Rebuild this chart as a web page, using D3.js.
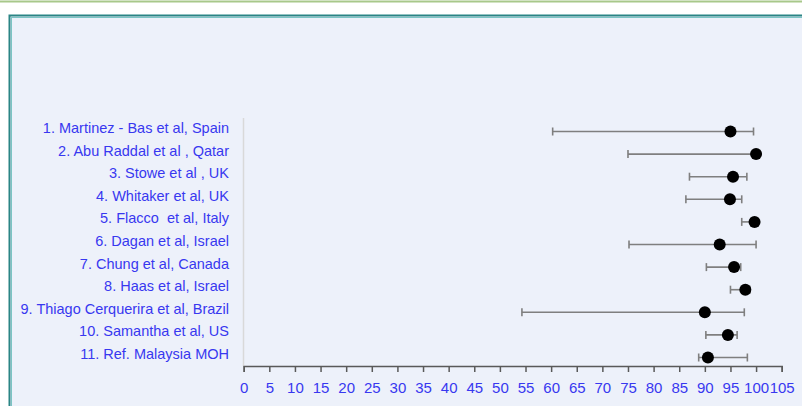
<!DOCTYPE html>
<html>
<head>
<meta charset="utf-8">
<script src="https://cdn.jsdelivr.net/npm/d3@7"></script>
<style>
  body { margin: 0; background: #fff; }
  svg { display: block; }
  text { font-family: "Liberation Sans Narrow", "Liberation Sans", sans-serif; }
</style>
</head>
<body>
<div id="d3-container"></div>
<script>
/**
 * CONSTANTS AND GLOBALS
 * */
const width = 802,
  height = 406,
  margin = { top: 118, bottom: 40, left: 243.7, right: 20 };

// data
const studies = [
  "1. Martinez - Bas et al, Spain",
  "2. Abu Raddal et al , Qatar",
  "3. Stowe et al , UK",
  "4. Whitaker et al, UK",
  "5. Flacco  et al, Italy",
  "6. Dagan et al, Israel",
  "7. Chung et al, Canada",
  "8. Haas et al, Israel",
  "9. Thiago Cerquerira et al, Brazil",
  "10. Samantha et al, US",
  "11. Ref. Malaysia MOH"
];
const estimate = [95.0, 100, 95.5, 94.9, 99.7, 92.9, 95.7, 97.9, 90.0, 94.5, 90.6];
const lower = [60.3, 75.0, 87.0, 86.3, 97.2, 75.2, 90.3, 95.0, 54.3, 90.2, 88.8];
const upper = [99.5, 100, 98.2, 97.2, 100, 100, 97.0, 98.8, 97.7, 96.3, 98.3];
const xTicks = d3.range(0, 106, 5);

const rows = studies.map((s, i) => ({
  name: s, est: estimate[i], lo: lower[i], hi: upper[i]
}));

const svg = d3.select("#d3-container")
  .append("svg")
  .attr("width", width)
  .attr("height", height);

// page decoration: green rule + tinted panel
svg.append("line")
  .attr("x1", 0).attr("x2", width)
  .attr("y1", 1.5).attr("y2", 1.5)
  .attr("stroke", "#a8c88a")
  .attr("stroke-width", 2);

svg.append("rect")
  .attr("x", 9.5).attr("y", 15.5)
  .attr("width", width).attr("height", height)
  .attr("fill", "#edf1fa")
  .attr("stroke", "#2b8585")
  .attr("stroke-width", 2);
svg.append("rect")
  .attr("x", 11.5).attr("y", 17.5)
  .attr("width", width).attr("height", height)
  .attr("fill", "none")
  .attr("stroke", "#7cc4c4")
  .attr("stroke-width", 1);

const x = d3.scaleLinear()
  .domain([0, 105])
  .range([243.7, 781.7]);

const y = d3.scalePoint()
  .domain(studies)
  .range([131.5, 357.5]);

const axisY = 366;

// vertical axis line
svg.append("line")
  .attr("x1", 243.5).attr("x2", 243.5)
  .attr("y1", margin.top).attr("y2", axisY)
  .attr("stroke", "#d9d9d9")
  .attr("stroke-width", 1.5);

// x axis
const xAxis = svg.append("g")
  .attr("transform", `translate(0, ${axisY})`)
  .call(d3.axisBottom(x).tickValues(xTicks).tickSize(6).tickSizeOuter(6).tickPadding(10));
xAxis.select(".domain").attr("stroke", "#595959").attr("stroke-width", 1.5);
xAxis.selectAll(".tick line").attr("stroke", "#595959").attr("stroke-width", 1.5);
xAxis.selectAll(".tick text")
  .attr("fill", "#3838f0")
  .attr("font-size", 15);

// study labels
svg.append("g")
  .selectAll("text")
  .data(rows)
  .join("text")
  .attr("x", 229)
  .attr("y", d => y(d.name) - 3.5)
  .attr("dy", "0.35em")
  .attr("text-anchor", "end")
  .attr("font-size", 14.5)
  .attr("fill", "#3838f0")
  .style("white-space", "pre")
  .text(d => d.name);

// error bars
const bars = svg.append("g")
  .selectAll("g")
  .data(rows)
  .join("g")
  .attr("transform", d => `translate(0, ${y(d.name)})`);

bars.append("line")
  .attr("x1", d => x(d.lo)).attr("x2", d => x(d.hi))
  .attr("stroke", "#7f7f7f")
  .attr("stroke-width", 1.6);
bars.append("line")
  .attr("x1", d => x(d.lo)).attr("x2", d => x(d.lo))
  .attr("y1", -4).attr("y2", 4)
  .attr("stroke", "#7f7f7f")
  .attr("stroke-width", 1.6);
bars.append("line")
  .attr("x1", d => x(d.hi)).attr("x2", d => x(d.hi))
  .attr("y1", -4).attr("y2", 4)
  .attr("stroke", "#7f7f7f")
  .attr("stroke-width", 1.6);

bars.append("circle")
  .attr("cx", d => x(d.est))
  .attr("r", 6)
  .attr("fill", "#000");
</script>
</body>
</html>
